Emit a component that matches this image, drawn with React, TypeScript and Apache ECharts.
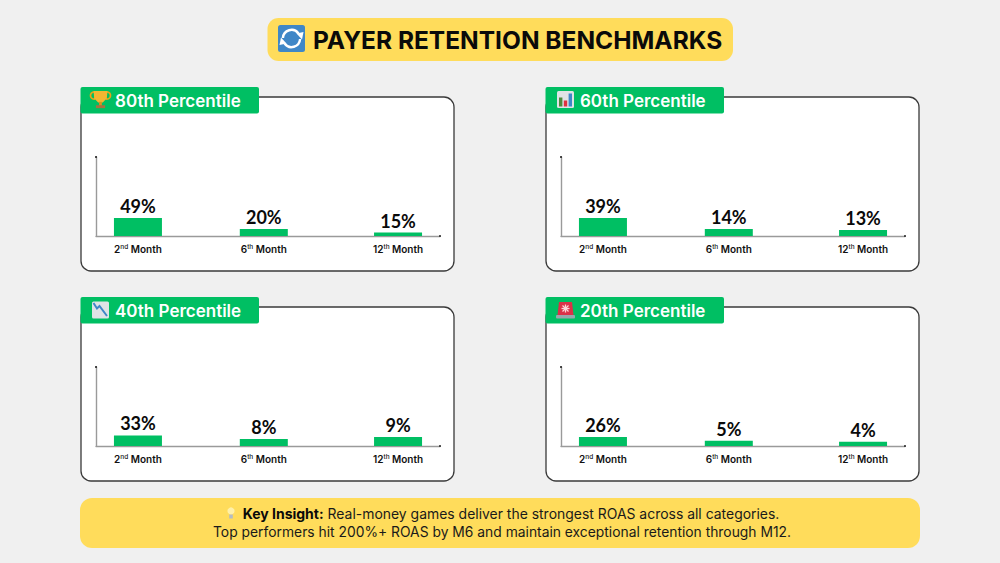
import React, { useEffect, useRef } from "react";
import * as echarts from "echarts";

const panelTitles = ["80th Percentile", "60th Percentile", "40th Percentile", "20th Percentile"];
const monthOrdinals = ["2", "6", "12"];
const monthSuffixes = ["nd", "th", "th"];
const monthSlots = [5, 20, 36];

// Printed percentages
const labels80 = ["49%", "20%", "15%"];
const labels60 = ["39%", "14%", "13%"];
const labels40 = ["33%", "8%", "9%"];
const labels20 = ["26%", "5%", "4%"];

// Bar lengths (they are not proportional to the printed labels)
const bars80 = [18, 7, 3.4];
const bars60 = [18, 7, 6];
const bars40 = [10.6, 7, 9];
const bars20 = [9, 5.3, 4.3];

const FONT = "Inter";
const GREEN = "#00bf63";
const YELLOW = "#ffdc5b";

const panelLabels = [labels80, labels60, labels40, labels20];
const panelBars = [bars80, bars60, bars40, bars20];
const panelX = [81, 546, 81, 546];
const panelY = [97, 97, 307, 307];

function icon(x: number, y: number, children: any[], scale = 1): any {
  return { type: "group", x, y, scaleX: scale, scaleY: scale, children: children.map((c) => ({ ...c, z: 6 })) };
}

function refreshIcon(): any {
  const s = { stroke: "#fff", fill: "none", lineWidth: 2.4 };
  return icon(291.5, 38.5, [
    { type: "rect", shape: { x: -13.5, y: -13.5, width: 27, height: 27, r: 2.5 }, style: { fill: "#3f87c7" } },
    { type: "arc", shape: { cx: 0, cy: 0, r: 8.6, startAngle: Math.PI * 1.02, endAngle: Math.PI * 1.8 }, style: s },
    { type: "arc", shape: { cx: 0, cy: 0, r: 8.6, startAngle: Math.PI * 0.02, endAngle: Math.PI * 0.8 }, style: s },
    { type: "polygon", shape: { points: [[5, -5], [12, -6.5], [10.5, 1]] }, style: { fill: "#fff" } },
    { type: "polygon", shape: { points: [[-5, 5], [-12, 6.5], [-10.5, -1]] }, style: { fill: "#fff" } },
  ]);
}

function trophyIcon(x: number, y: number): any {
  return icon(x, y, [
    { type: "arc", shape: { cx: -5.5, cy: -3.5, r: 3.2, startAngle: Math.PI * 0.4, endAngle: Math.PI * 1.5 }, style: { stroke: "#e8a317", fill: "none", lineWidth: 1.5 } },
    { type: "arc", shape: { cx: 5.5, cy: -3.5, r: 3.2, startAngle: Math.PI * 1.5, endAngle: Math.PI * 0.6 }, style: { stroke: "#e8a317", fill: "none", lineWidth: 1.5 } },
    { type: "polygon", shape: { points: [[-6, -7.5], [6, -7.5], [5.5, -1], [2, 2.5], [-2, 2.5], [-5.5, -1]] }, style: { fill: "#f2b632" } },
    { type: "rect", shape: { x: -1.2, y: 2, width: 2.4, height: 3.5 }, style: { fill: "#d9931e" } },
    { type: "rect", shape: { x: -4, y: 5, width: 8, height: 2.5 }, style: { fill: "#a9713f" } },
  ], 1.15);
}

function barsIcon(x: number, y: number): any {
  return icon(x, y, [
    { type: "rect", shape: { x: -8.5, y: -8.5, width: 17, height: 17, r: 1.5 }, style: { fill: "#dfe3e6" } },
    { type: "rect", shape: { x: -6.5, y: -2, width: 3.4, height: 9 }, style: { fill: "#4d8a3c" } },
    { type: "rect", shape: { x: -1.7, y: 1, width: 3.4, height: 6 }, style: { fill: "#e0303f" } },
    { type: "rect", shape: { x: 3.1, y: -6, width: 3.4, height: 13 }, style: { fill: "#3f87c7" } },
  ]);
}

function fallingIcon(x: number, y: number): any {
  return icon(x, y, [
    { type: "rect", shape: { x: -8.5, y: -8.5, width: 17, height: 17, r: 1.5 }, style: { fill: "#dfe3e6" } },
    { type: "polyline", shape: { points: [[-7, -7], [-3.5, -1.5], [-1, -4], [6.5, 6]] }, style: { stroke: "#3f87c7", fill: "none", lineWidth: 2 } },
  ]);
}

function sirenIcon(x: number, y: number): any {
  const ray = { stroke: "#ffd5d9", lineWidth: 1.3 };
  return icon(x, y, [
    { type: "polygon", shape: { points: [[-6.5, -8], [6.5, -8], [8, 5], [-8, 5]] }, style: { fill: "#dc3148" } },
    { type: "rect", shape: { x: -9.5, y: 5, width: 19, height: 3.5, r: 1 }, style: { fill: "#9aa6ac" } },
    { type: "line", shape: { x1: -4, y1: -1.5, x2: 4, y2: -1.5 }, style: ray },
    { type: "line", shape: { x1: 0, y1: -5.5, x2: 0, y2: 2.5 }, style: ray },
    { type: "line", shape: { x1: -3, y1: -4.5, x2: 3, y2: 1.5 }, style: ray },
    { type: "line", shape: { x1: 3, y1: -4.5, x2: -3, y2: 1.5 }, style: ray },
  ]);
}

function bulbIcon(x: number, y: number): any {
  return icon(x, y, [
    { type: "circle", shape: { cx: 0, cy: -2, r: 3.6 }, style: { fill: "#fff0a8" } },
    { type: "rect", shape: { x: -1.8, y: 1.5, width: 3.6, height: 4 }, style: { fill: "#b4bcc4" } },
  ]);
}

const panelIcons = [trophyIcon(100.5, 99.5), barsIcon(565.5, 99.5), fallingIcon(100.5, 310), sirenIcon(565.5, 310)];

function buildOption(): any {
  const grids: any[] = [];
  const xAxes: any[] = [];
  const yAxes: any[] = [];
  const series: any[] = [];
  const graphics: any[] = [
    { type: "rect", shape: { x: 267.5, y: 18, width: 465.5, height: 43, r: 11 }, style: { fill: YELLOW }, z: 1 },
    refreshIcon(),
    { type: "text", x: 313, y: 39.5, z: 5, style: { text: "PAYER RETENTION BENCHMARKS", font: `700 24.5px ${FONT}`, fill: "#0a0a0a", align: "left", verticalAlign: "middle" } },
    { type: "rect", shape: { x: 80, y: 498, width: 840, height: 50, r: 12 }, style: { fill: YELLOW }, z: 1 },
    bulbIcon(231, 513),
    {
      type: "text", x: 511, y: 513, z: 5,
      style: {
        text: "{b|Key Insight:} Real-money games deliver the strongest ROAS across all categories.",
        font: `400 13.95px ${FONT}`, fill: "#1a1a1a", align: "center", verticalAlign: "middle",
        rich: { b: { font: `700 14px ${FONT}`, fill: "#0a0a0a" } },
      },
    },
    { type: "text", x: 502, y: 532, z: 5, style: { text: "Top performers hit 200%+ ROAS by M6 and maintain exceptional retention through M12.", font: `400 13.85px ${FONT}`, fill: "#1a1a1a", align: "center", verticalAlign: "middle" } },
  ];

  panelTitles.forEach((title, i) => {
    const px = panelX[i];
    const py = panelY[i];
    const left = px + 15;
    const top = py + 60;
    const labels = panelLabels[i];

    graphics.push(
      { type: "rect", shape: { x: px, y: py, width: 373, height: 174, r: 10 }, style: { fill: "#fff", stroke: "#3a3a3a", lineWidth: 1.3 }, z: 1 },
      { type: "rect", shape: { x: px - 0.5, y: py - 10, width: 178.5, height: 26.5, r: 2 }, style: { fill: GREEN }, z: 4 },
      panelIcons[i],
      { type: "text", x: px + 34, y: py + 3.5, z: 5, style: { text: title, font: `600 17px ${FONT}`, fill: "#fff", align: "left", verticalAlign: "middle" } },
      { type: "rect", shape: { x: left - 0.8, y: top - 1, width: 1.6, height: 2 }, style: { fill: "#222" }, z: 6 },
      { type: "rect", shape: { x: left + 343, y: top + 78.2, width: 2, height: 1.6 }, style: { fill: "#222" }, z: 6 },
    );

    grids.push({ left, top, width: 344, height: 79, containLabel: false });
    xAxes.push({
      gridIndex: i, type: "value", min: 0, max: 41,
      splitLine: { show: false },
      axisTick: { show: false },
      axisLine: { show: true, lineStyle: { color: "#9a9a9a", width: 1.4 } },
      axisLabel: {
        show: true, customValues: monthSlots, margin: 6, showMinLabel: true, showMaxLabel: true,
        formatter: (v: number) => {
          const k = monthSlots.indexOf(v);
          return k < 0 ? "" : `{m|${monthOrdinals[k]}}{s|${monthSuffixes[k]}}{m| Month}`;
        },
        rich: {
          m: { fontFamily: FONT, fontWeight: 600, fontSize: 10, color: "#111", lineHeight: 12, verticalAlign: "bottom" },
          s: { fontFamily: FONT, fontWeight: 500, fontSize: 6.5, color: "#111", lineHeight: 12, verticalAlign: "top", padding: [1.5, 0, 0, 0] },
        },
      },
      z: 3,
    });
    yAxes.push({
      gridIndex: i, type: "value", min: 0, max: 79,
      splitLine: { show: false },
      axisTick: { show: false },
      axisLabel: { show: false },
      axisLine: { show: true, onZero: false, lineStyle: { color: "#9a9a9a", width: 1.4 } },
      z: 3,
    });
    series.push({
      type: "bar", xAxisIndex: i, yAxisIndex: i, barWidth: 48, z: 4,
      itemStyle: { color: GREEN },
      data: panelBars[i].map((h, k) => [monthSlots[k], h]),
      label: {
        show: true, position: "top", distance: 3,
        fontFamily: "Lato", fontWeight: 700, fontSize: 18, color: "#0a0a0a",
        formatter: (p: any) => labels[p.dataIndex],
      },
    });
  });

  return { animation: false, backgroundColor: "#f0f0f0", grid: grids, xAxis: xAxes, yAxis: yAxes, series, graphic: { elements: graphics } };
}

export default function App() {
  const ref = useRef<HTMLDivElement>(null);
  useEffect(() => {
    const chart = echarts.init(ref.current!, undefined, { renderer: "svg" });
    chart.setOption(buildOption());
    return () => chart.dispose();
  }, []);
  return <div ref={ref} style={{ position: "absolute", left: 0, top: 0, width: 1000, height: 563 }} />;
}
